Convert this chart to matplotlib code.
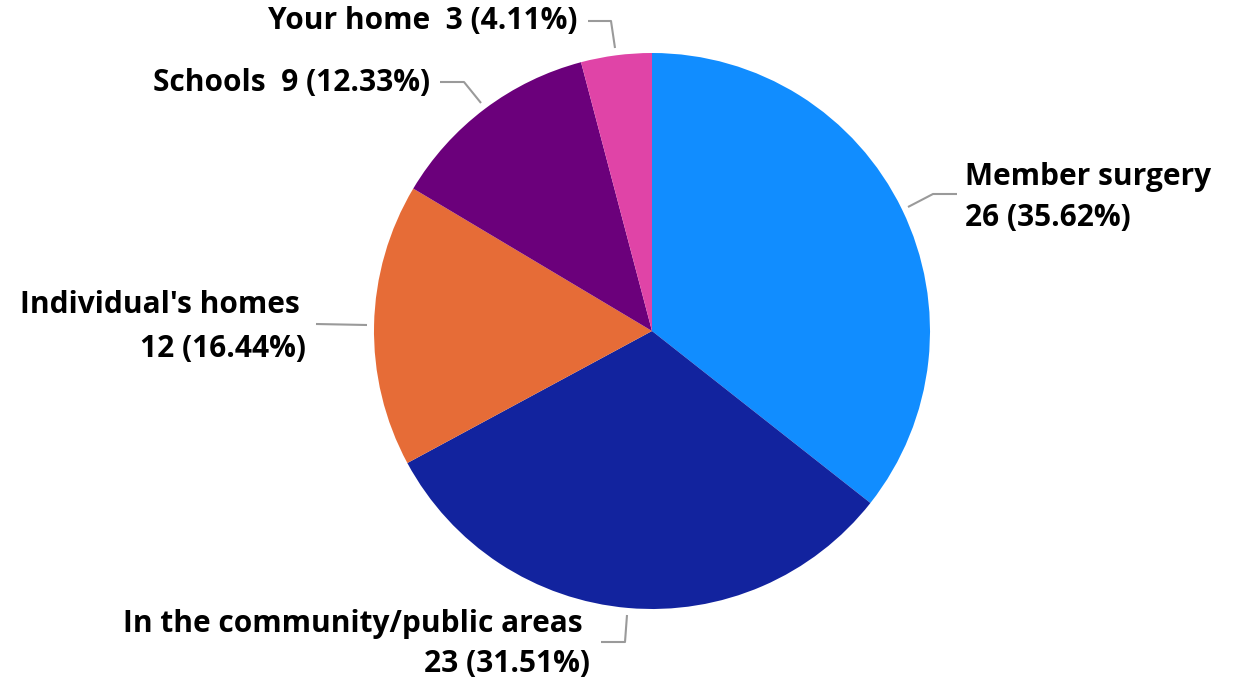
import matplotlib
matplotlib.use("Agg")
import matplotlib.pyplot as plt

categories = ["Member surgery", "In the community/public areas", "Individual's homes", "Schools", "Your home"]
values = [26, 23, 12, 9, 3]
percents = ["35.62%", "31.51%", "16.44%", "12.33%", "4.11%"]
colors = ["#118DFF", "#12239E", "#E66C37", "#6B007B", "#E044A7"]

W, H = 1247, 686
fig = plt.figure(figsize=(W / 100, H / 100), dpi=100)
ax = fig.add_axes([0, 0, 1, 1])
ax.set_xlim(0, W)
ax.set_ylim(0, H)
ax.set_aspect("equal")
ax.axis("off")

def Y(y):
    return H - y

cx, cy, r = 652, 331, 278
ax.pie(values, colors=colors, startangle=90, counterclock=False, radius=r,
       center=(cx, Y(cy)), frame=False, wedgeprops=dict(linewidth=0))
ax.set_xlim(0, W)
ax.set_ylim(0, H)

font = dict(family=["Open Sans", "DejaVu Sans"], fontweight="bold", fontsize=21.5, color="#000000")
lc = "#9a9a9a"

# leader lines (pixel coords)
leaders = [
    [(908, 207), (933, 194), (957, 194)],
    [(627, 615), (625, 642), (601, 642)],
    [(367, 325), (316, 324)],
    [(481, 103), (464, 82), (440, 82)],
    [(615, 48), (611, 21), (588, 21)],
]
for pts in leaders:
    ax.plot([p[0] for p in pts], [Y(p[1]) for p in pts], color=lc, lw=1.5, solid_capstyle="butt")

lab = [f"{v} ({p})" for v, p in zip(values, percents)]
ax.text(965, Y(177), categories[0], ha="left", va="center", **font)
ax.text(965, Y(218), lab[0], ha="left", va="center", **font)
ax.text(583, Y(624), categories[1], ha="right", va="center", **font)
ax.text(590, Y(664), lab[1], ha="right", va="center", **font)
ax.text(300, Y(305), categories[2], ha="right", va="center", **font)
ax.text(306, Y(349), lab[2], ha="right", va="center", **font)
ax.text(430, Y(83), categories[3] + "  " + lab[3], ha="right", va="center", **font)
ax.text(578, Y(21), categories[4] + "  " + lab[4], ha="right", va="center", **font)

fig.savefig("out.png", dpi=100)
